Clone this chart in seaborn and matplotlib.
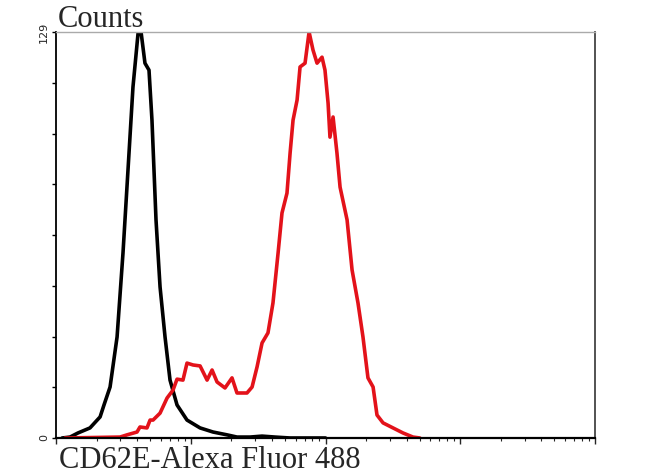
import numpy as np
import pandas as pd
import matplotlib
matplotlib.use("Agg")
import matplotlib.pyplot as plt
import seaborn as sns

# log10 of fluorescence intensity, and counts per channel
isotype_log = [0.045, 0.104, 0.163, 0.252, 0.327, 0.356, 0.401, 0.453, 0.497, 0.534, 0.571,
               0.609, 0.631, 0.660, 0.690, 0.712, 0.742, 0.772, 0.809, 0.846, 0.898, 0.972,
               1.069, 1.165, 1.269, 1.343, 1.44, 1.529, 1.625, 1.737, 2.0]
isotype_counts = [0, 0.3, 1.6, 3.2, 6.7, 10.5, 16.2, 32.1, 58.8, 85.1, 111.5,
                  128.7, 129, 119.1, 116.9, 101.0, 69.3, 48.0, 32.1, 18.4, 10.5, 5.7,
                  3.2, 1.9, 1.0, 0.3, 0.3, 0.6, 0.3, 0, 0]

cd62e_log = [0.067, 0.475, 0.527, 0.601, 0.623, 0.675, 0.698, 0.720, 0.772, 0.824, 0.868,
             0.898, 0.942, 0.972, 1.017, 1.069, 1.121, 1.158, 1.195, 1.254, 1.306, 1.343,
             1.417, 1.455, 1.492, 1.529, 1.573, 1.610, 1.648, 1.677, 1.714, 1.737, 1.759,
             1.789, 1.811, 1.848, 1.878, 1.907, 1.937, 1.974, 1.996, 2.019, 2.033, 2.056,
             2.085, 2.108, 2.160, 2.197, 2.241, 2.278, 2.315, 2.353, 2.382, 2.427, 2.501,
             2.575, 2.649, 2.70]
cd62e_counts = [0, 0.3, 1.0, 1.9, 3.5, 3.2, 5.7, 5.7, 7.9, 12.7, 15.2,
                18.7, 18.4, 23.8, 23.2, 22.9, 18.4, 21.6, 17.8, 15.9, 19.1, 14.3,
                14.3, 16.2, 22.6, 30.2, 33.4, 42.9, 58.8, 71.5, 77.8, 90.5, 101.0,
                107.4, 117.9, 119.1, 129, 123.3, 119.1, 121.0, 116.9, 106.4, 95.6, 102.0,
                90.5, 79.7, 69.3, 53.4, 42.9, 32.1, 19.1, 16.2, 7.3, 4.8, 3.2,
                1.6, 0.3, 0]

y_max = 129
x_label = "CD62E-Alexa Fluor 488"

iso = pd.DataFrame({"intensity": 10 ** np.array(isotype_log), "counts": isotype_counts})
pos = pd.DataFrame({"intensity": 10 ** np.array(cd62e_log), "counts": cd62e_counts})

sns.set_style("white")
fig = plt.figure(figsize=(6.5, 4.75), dpi=100)
ax = fig.add_axes([0.0862, 0.0779, 0.8292, 0.8547])

sns.lineplot(data=iso, x="intensity", y="counts", color="black", lw=2.6,
             sort=False, estimator=None, ax=ax, solid_joinstyle="round")
sns.lineplot(data=pos, x="intensity", y="counts", color="#e3121a", lw=2.6,
             sort=False, estimator=None, ax=ax, solid_joinstyle="round")

ax.set_xscale("log")
ax.set_xlim(1, 1e4)
ax.set_ylim(0, y_max)
ax.set_xlabel("")
ax.set_ylabel("")

# y ticks: 8 intervals, only ends labelled
yt = np.linspace(0, y_max, 9)
ax.set_yticks(yt)
ax.set_yticklabels(["0"] + [""] * 7 + [str(y_max)], rotation=90, va="center",
                   fontsize=8, family="DejaVu Sans")
ax.tick_params(axis="y", left=True, length=3, width=1, pad=2, color="black")
ax.tick_params(axis="x", which="major", bottom=True, length=4, width=1, labelbottom=False)
ax.tick_params(axis="x", which="minor", bottom=True, length=2.5, width=0.8)

for side, col, lw in [("left", "black", 1.3), ("bottom", "black", 1.6),
                      ("right", "#444444", 1.3), ("top", "#aaaaaa", 1.0)]:
    ax.spines[side].set_visible(True)
    ax.spines[side].set_color(col)
    ax.spines[side].set_linewidth(lw)

fig.text(58 / 650, 1 - 27 / 475, "Counts", family="Liberation Serif", fontsize=22,
         va="baseline", ha="left")
fig.text(59 / 650, 1 - 468 / 475, x_label, family="Liberation Serif", fontsize=22,
         va="baseline", ha="left")

fig.savefig("out.png", dpi=100)
